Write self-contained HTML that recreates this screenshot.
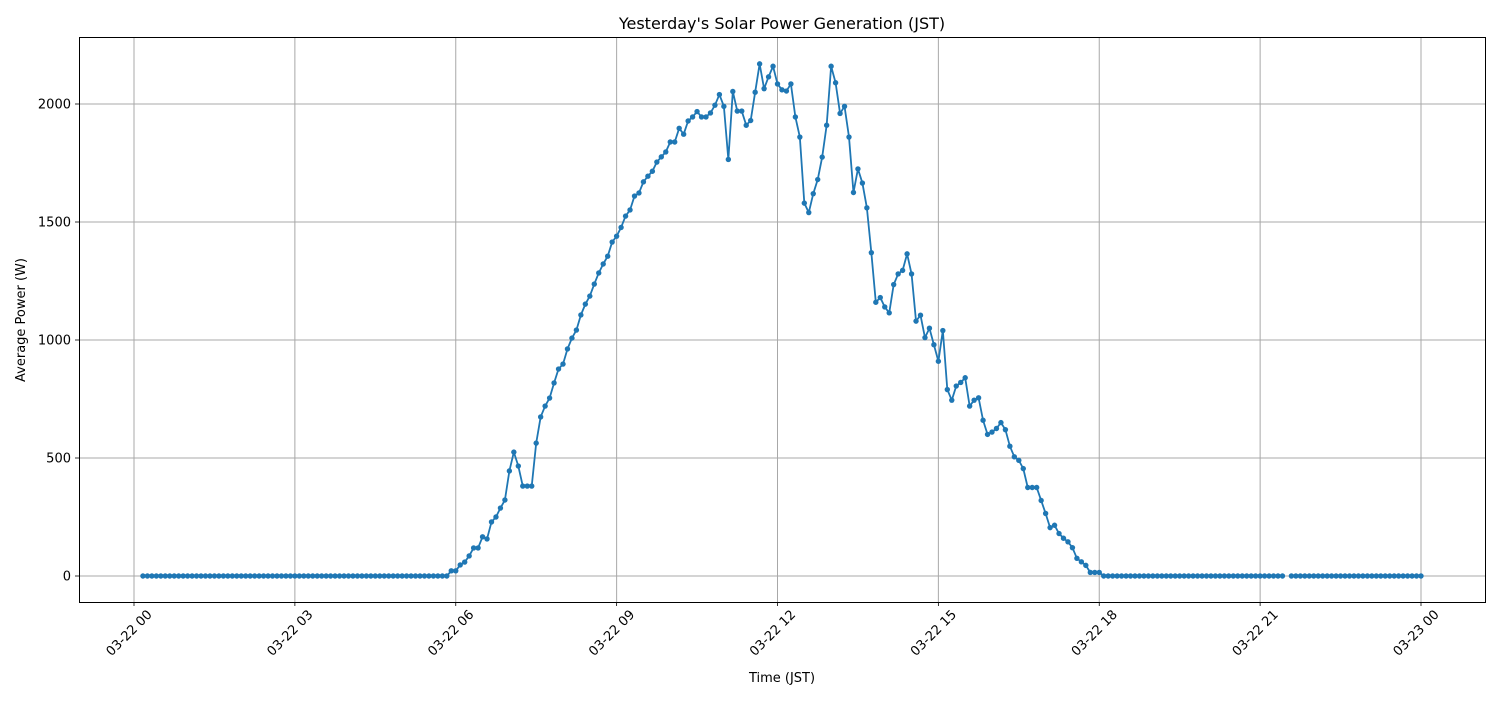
<!DOCTYPE html>
<html><head><meta charset="utf-8"><style>
body{margin:0;background:#fff;font-family:"Liberation Sans","DejaVu Sans",sans-serif}
svg text{font-family:"DejaVu Sans","Liberation Sans",sans-serif}
</style></head><body>
<svg id="chart" width="1500" height="700" xmlns="http://www.w3.org/2000/svg">
<rect width="1500" height="700" fill="#fff"/>
<text x="782" y="29" text-anchor="middle" font-size="16">Yesterday's Solar Power Generation (JST)</text>
<text x="782" y="682" text-anchor="middle" font-size="13">Time (JST)</text>
<text transform="translate(25,320) rotate(-90)" text-anchor="middle" font-size="13">Average Power (W)</text>
<g id="grid"></g><g id="ticks"></g><g id="series"></g>
<rect x="79.5" y="37.5" width="1406" height="565" fill="none" stroke="#000" stroke-width="1"/>
</svg>
<script>
const startMinute = 10;
const stepMinutes = 5;
const zerosMorning = [0,0,0,0,0,0,0,0,0,0,0,0,0,0,0,0,0,0,0,0,0,0,0,0,0,0,0,0,0,0,0,0,0,0,0,0,0,0,0,0,0,0,0,0,0,0,0,0,0,0,0,0,0,0,0,0,0,0,0,0,0,0,0,0,0,0,0,0,0];
const daytimeValues = [22,22,47,59,85,119,119,166,157,229,250,288,322,445,525,466,381,381,381,563,674,720,754,818,877,898,962,1008,1042,1106,1152,
1186,1237,1284,1322,1355,1415,1440,1477,1525,1551,1610,1623,1670,1694,1715,1754,1776,1797,1839,1839,
1897,1872,1928,1945,1968,1945,1945,1962,1995,2040,1990,1765,2053,1970,1970,1910,1930,2050,2170,2065,
2115,2160,2085,2060,2055,2085,1945,1860,1580,1540,1620,1680,1775,1910,2160,2090,1960,1990,1860,1625,
1725,1665,1560,1370,1160,1180,1140,1115,1235,1280,1295,1365,1280,1080,1105,1010,1050,980,910,1040,
790,745,805,820,840,720,745,755,660,600,610,625,650,620,550,505,490,455,375,375,
375,320,265,205,215,180,160,145,120,75,60,45,15,15,15];
const zerosEvening = [0,0,0,0,0,0,0,0,0,0,0,0,0,0,0,0,0,0,0,0,0,0,0,0,0,0,0,0,0,0,0,0,0,0,0,0,0,0,0,0,0,null,0,0,0,0,0,0,0,0,0,0,0,0,0,0,0,0,0,0,0,0,0,0,0,0,0,0,0,0,0,0];
const yTicks = [0,500,1000,1500,2000];
const xTickLabels = ["03-22 00","03-22 03","03-22 06","03-22 09","03-22 12","03-22 15","03-22 18","03-22 21","03-23 00"];
const xTickMinutes = [0,180,360,540,720,900,1080,1260,1440];

const values = zerosMorning.concat(daytimeValues, zerosEvening);
const NS = "http://www.w3.org/2000/svg";
const xs = m => 134 + m * (1287/1440);
const ys = v => 576 - v * 0.236;
function mk(tag, attrs, parent){const e=document.createElementNS(NS,tag);for(const k in attrs)e.setAttribute(k,attrs[k]);parent.appendChild(e);return e;}
const grid=document.getElementById('grid'), ticks=document.getElementById('ticks'), series=document.getElementById('series');
yTicks.forEach(v=>{
  const y=ys(v);
  const g=mk('line',{x1:79,x2:1485,y1:y,y2:y,stroke:'#a8a8a8','stroke-width':1},grid);
  
  
  mk('line',{x1:75,x2:79,y1:y,y2:y,stroke:'#000','stroke-width':0.8},ticks);
  const t=mk('text',{x:71,y:y+4.5,'text-anchor':'end','font-size':13},ticks);
  t.textContent=v;
  
  
});
xTickMinutes.forEach((m,i)=>{
  const x=xs(m);
  const g=mk('line',{x1:x,x2:x,y1:37,y2:602,stroke:'#a8a8a8','stroke-width':1},grid);
  
  
  mk('line',{x1:x,x2:x,y1:602,y2:606,stroke:'#000','stroke-width':0.8},ticks);
  const t=mk('text',{'text-anchor':'middle','font-size':13,transform:`translate(${x-2},${636}) rotate(-45)`},ticks);
  t.textContent=xTickLabels[i];
  
  
});
let segs=[],cur=[];
values.forEach((v,i)=>{
  if(v===null){if(cur.length)segs.push(cur);cur=[];return;}
  cur.push([xs(startMinute+i*stepMinutes),ys(v)]);
});
if(cur.length)segs.push(cur);
segs.forEach(s=>{
  const p=mk('polyline',{points:s.map(q=>q.join(',')).join(' '),fill:'none',stroke:'#1f77b4','stroke-width':1.8,'stroke-linejoin':'round'},series);
  
  
});
values.forEach((v,i)=>{
  if(v===null)return;
  const c=mk('circle',{cx:xs(startMinute+i*stepMinutes),cy:ys(v),r:2.7,fill:'#1f77b4'},series);
  
  
});
</script>
</body></html>
